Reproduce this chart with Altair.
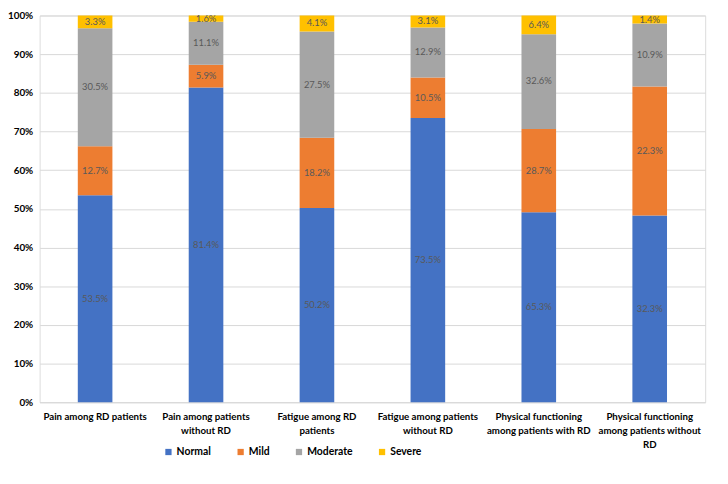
import altair as alt
import pandas as pd

categories = [
    "Pain among RD patients",
    "Pain among patients|without RD",
    "Fatigue among RD|patients",
    "Fatigue among patients|without RD",
    "Physical functioning|among patients with RD",
    "Physical functioning|among patients without|RD",
]
levels = ["Normal", "Mild", "Moderate", "Severe"]
colors = ["#4472C4", "#ED7D31", "#A5A5A5", "#FFC000"]

normal = [53.5, 81.4, 50.2, 73.5, 65.3, 32.3]
mild = [12.7, 5.9, 18.2, 10.5, 28.7, 22.3]
moderate = [30.5, 11.1, 27.5, 12.9, 32.6, 10.9]
severe = [3.3, 1.6, 4.1, 3.1, 6.4, 1.4]
ytick_values = [0, 0.1, 0.2, 0.3, 0.4, 0.5, 0.6, 0.7, 0.8, 0.9, 1.0]

rows = []
for i, c in enumerate(categories):
    for j, (lv, vals) in enumerate(zip(levels, [normal, mild, moderate, severe])):
        rows.append({"cat": c, "level": lv, "order": j, "value": vals[i]})
df = pd.DataFrame(rows)

FONT = "Lato"

base = (
    alt.Chart(df)
    .transform_joinaggregate(total="sum(value)", groupby=["cat"])
    .transform_calculate(frac="datum.value / datum.total")
    .transform_stack(
        stack="frac",
        groupby=["cat"],
        as_=["y0", "y1"],
        sort=[alt.SortField("order", order="ascending")],
    )
    .transform_calculate(
        mid="(datum.y0 + datum.y1) / 2",
        lbl="format(datum.value, '.1f') + '%'",
    )
)

xenc = alt.X(
    "cat:N",
    sort=categories,
    title=None,
    scale=alt.Scale(paddingInner=0, paddingOuter=0),
    axis=alt.Axis(
        labelExpr="split(datum.value, '|')",
        labelAngle=0,
        labelFont=FONT,
        labelFontWeight="bold",
        labelFontSize=9.8,
        labelColor="#000000",
        labelPadding=10,
        labelLineHeight=14,
        labelOverlap=False,
        labelBound=False,
        ticks=False,
        domainColor="#d9d9d9",
        grid=False,
    ),
)

yenc = alt.Y(
    "y0:Q",
    title=None,
    scale=alt.Scale(domain=[0, 1], nice=False),
    axis=alt.Axis(
        values=ytick_values,
        format=".0%",
        labelFont=FONT,
        labelFontWeight="bold",
        labelFontSize=10,
        labelColor="#000000",
        labelPadding=7,
        labelOverlap=False,
        ticks=False,
        domain=False,
        gridColor="#d9d9d9",
    ),
)

bars = base.mark_bar(size=35).encode(
    x=xenc,
    y=yenc,
    y2="y1:Q",
    color=alt.Color(
        "level:N",
        sort=levels,
        scale=alt.Scale(domain=levels, range=colors),
        legend=alt.Legend(
            title=None,
            orient="none",
            direction="horizontal",
            legendX=125,
            legendY=436,
            symbolType="square",
            symbolSize=40,
            symbolStrokeWidth=0,
            labelFont=FONT,
            labelFontWeight="bold",
            labelFontSize=10.5,
            labelColor="#000000",
            labelOffset=3,
            columnPadding=24,
            padding=0,
        ),
    ),
    order=alt.Order("order:Q"),
)

text = (
    base.transform_calculate(y0="datum.mid")
    .mark_text(font=FONT, fontSize=9.5, color="#595959")
    .encode(x=xenc, y=yenc, text="lbl:N")
)

chart = (
    alt.layer(bars, text)
    .properties(
        width=673,
        height=391,
        autosize=alt.AutoSizeParams(type="none"),
        padding={"left": 32, "top": 5, "right": 15, "bottom": 70},
    )
    .configure_view(strokeWidth=0)
    .configure(background="white")
)

chart.save("out.html", embed_options={"renderer": "svg", "actions": False})
